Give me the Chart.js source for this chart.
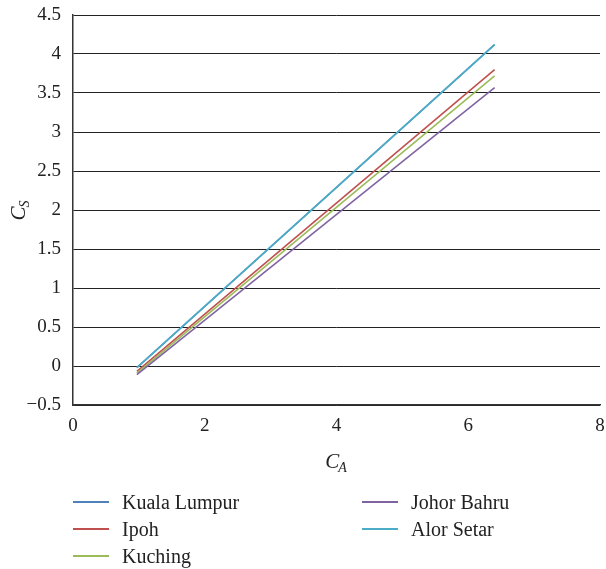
<!DOCTYPE html>
<html>
<head>
<meta charset="utf-8">
<script src="https://cdn.jsdelivr.net/npm/chart.js@4/dist/chart.umd.min.js"></script>
<style>
  body { margin: 0; background: #fff; }
  #wrap { position: relative; width: 606px; height: 569px; }
  #legend { position: absolute; left: 0; top: 0; width: 606px; height: 569px; pointer-events: none;
            font-family: "Liberation Serif", "DejaVu Serif", serif; font-size: 20px; color: #222; }
  .item { position: absolute; height: 22px; line-height: 22px; white-space: nowrap; }
  .item span.sw { position: absolute; left: 0; top: 10px; width: 36px; height: 2px; }
  .item span.tx { position: absolute; left: 49px; top: 0; }
</style>
</head>
<body>
<div id="wrap">
  <canvas id="chart" width="606" height="569"></canvas>
  <div id="legend"></div>
</div>
<script>
// data
const cities = ['Kuala Lumpur', 'Ipoh', 'Kuching', 'Johor Bahru', 'Alor Setar'];
const colors = ['#4f81bd', '#c0504d', '#9bbb59', '#8064a2', '#4bacc6'];
const caValues = [0.97, 6.4];
const kualaLumpur = [-0.02, 4.12];
const ipoh = [-0.07, 3.80];
const kuching = [-0.09, 3.72];
const johorBahru = [-0.11, 3.57];
const alorSetar = [-0.02, 4.12];
const seriesList = [kualaLumpur, ipoh, kuching, johorBahru, alorSetar];

const xTicks = [0, 2, 4, 6, 8];
const serif = '"Liberation Serif", "DejaVu Serif", serif';

const ctx = document.getElementById('chart').getContext('2d');

// judul sumbu dengan subscript (C_A, C_S)
const axisTitles = {
    id: 'axisTitles',
    afterDraw(chart) {
        const c = chart.ctx;
        const area = chart.chartArea;
        function drawSub(x, y, main, sub) {
            c.font = 'italic 21px ' + serif;
            const w1 = c.measureText(main).width;
            c.font = 'italic 14px ' + serif;
            const w2 = c.measureText(sub).width;
            const start = x - (w1 + w2) / 2;
            c.fillStyle = '#222';
            c.textBaseline = 'alphabetic';
            c.textAlign = 'left';
            c.font = 'italic 21px ' + serif;
            c.fillText(main, start, y);
            c.font = 'italic 14px ' + serif;
            c.fillText(sub, start + w1 - 1, y + 4);
        }
        c.save();
        drawSub((area.left + area.right) / 2, 468, 'C', 'A');
        c.restore();
        c.save();
        c.translate(25, (area.top + area.bottom) / 2);
        c.rotate(-Math.PI / 2);
        drawSub(0, 0, 'C', 'S');
        c.restore();
    }
};

const chart = new Chart(ctx, {
    type: 'line',
    data: {
        datasets: cities.map((name, i) => ({
            label: name,
            data: caValues.map((x, j) => ({ x: x, y: seriesList[i][j] })),
            borderColor: colors[i],
            backgroundColor: colors[i],
            borderWidth: 1.6,
            pointRadius: 0,
            fill: false,
            tension: 0,
            order: -i // seri terakhir digambar paling atas
        }))
    },
    options: {
        responsive: false,
        animation: false,
        layout: { padding: { left: 0, right: 6, top: 15, bottom: 0 } },
        plugins: {
            legend: { display: false },
            tooltip: { enabled: false }
        },
        scales: {
            x: {
                type: 'linear',
                min: 0,
                max: 8,
                afterBuildTicks: (scale) => { scale.ticks = xTicks.map(v => ({ value: v })); },
                afterFit: (scale) => {
                    scale.height = 569 - 405;
                    scale.paddingLeft = 0;
                    scale.paddingRight = 0;
                },
                grid: { display: false, drawTicks: false },
                border: { display: true, color: '#333', width: 1.5 },
                ticks: { padding: 10, color: '#222', font: { family: serif, size: 19 } }
            },
            y: {
                min: -0.5,
                max: 4.5,
                afterFit: (scale) => {
                    scale.width = 73;
                    scale.paddingTop = 0;
                    scale.paddingBottom = 0;
                },
                grid: { color: '#222', lineWidth: 1, drawTicks: false },
                border: { display: true, color: '#333', width: 1.5 },
                ticks: {
                    stepSize: 0.5,
                    padding: 12,
                    color: '#222',
                    font: { family: serif, size: 19 },
                    callback: (v) => (v < 0 ? '\u2212' + Math.abs(v) : String(v))
                }
            }
        }
    },
    plugins: [axisTitles]
});

// legenda dua kolom
const legend = document.getElementById('legend');
const legendPos = [[73, 491], [73, 518], [73, 545], [362, 491], [362, 518]];
cities.forEach((name, i) => {
    const d = document.createElement('div');
    d.className = 'item';
    d.style.left = legendPos[i][0] + 'px';
    d.style.top = legendPos[i][1] + 'px';
    d.innerHTML = '<span class="sw" style="background:' + colors[i] + '"></span><span class="tx">' + name + '</span>';
    legend.appendChild(d);
});
</script>
</body>
</html>
